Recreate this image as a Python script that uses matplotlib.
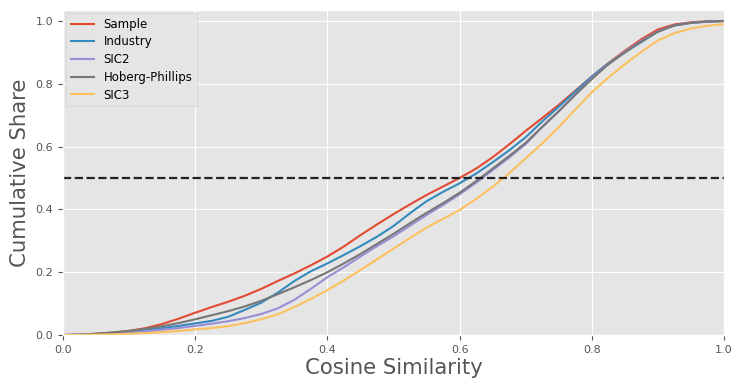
import matplotlib
matplotlib.use("Agg")
from matplotlib import pyplot as plt

plt.style.use("ggplot")

# cumulative share of firm pairs at or below each cosine similarity
similarity = [0.0, 0.025, 0.05, 0.075, 0.1, 0.125, 0.15, 0.175, 0.2, 0.225,
              0.25, 0.275, 0.3, 0.325, 0.35, 0.375, 0.4, 0.425, 0.45, 0.475,
              0.5, 0.525, 0.55, 0.575, 0.6, 0.625, 0.65, 0.675, 0.7, 0.725,
              0.75, 0.775, 0.8, 0.825, 0.85, 0.875, 0.9, 0.925, 0.95, 0.975, 1.0]

sample = [0.0, 0.001, 0.004, 0.008, 0.013, 0.022, 0.035, 0.052, 0.071, 0.089,
          0.106, 0.125, 0.147, 0.172, 0.196, 0.222, 0.250, 0.282, 0.318, 0.352,
          0.385, 0.416, 0.446, 0.473, 0.500, 0.530, 0.566, 0.607, 0.650, 0.691,
          0.733, 0.778, 0.823, 0.866, 0.905, 0.942, 0.973, 0.989, 0.996, 0.999, 1.0]
industry = [0.0, 0.001, 0.003, 0.006, 0.011, 0.016, 0.022, 0.029, 0.037, 0.045,
            0.058, 0.080, 0.103, 0.135, 0.172, 0.203, 0.228, 0.255, 0.283, 0.313,
            0.347, 0.388, 0.426, 0.456, 0.483, 0.514, 0.550, 0.588, 0.630, 0.680,
            0.727, 0.775, 0.823, 0.865, 0.900, 0.933, 0.966, 0.986, 0.994, 0.998, 1.0]
sic2 = [0.0, 0.0005, 0.002, 0.004, 0.008, 0.012, 0.017, 0.022, 0.029, 0.036,
        0.044, 0.054, 0.067, 0.085, 0.112, 0.147, 0.184, 0.216, 0.250, 0.283,
        0.314, 0.348, 0.382, 0.414, 0.448, 0.485, 0.525, 0.565, 0.608, 0.662,
        0.712, 0.765, 0.818, 0.863, 0.902, 0.937, 0.967, 0.986, 0.994, 0.998, 1.0]
hoberg = [0.0, 0.001, 0.004, 0.008, 0.013, 0.020, 0.028, 0.038, 0.050, 0.063,
          0.076, 0.091, 0.109, 0.130, 0.152, 0.175, 0.200, 0.228, 0.258, 0.290,
          0.322, 0.356, 0.389, 0.420, 0.453, 0.490, 0.530, 0.570, 0.612, 0.663,
          0.713, 0.765, 0.815, 0.862, 0.900, 0.935, 0.966, 0.986, 0.994, 0.998, 1.0]
sic3 = [0.0, 0.0003, 0.001, 0.002, 0.004, 0.006, 0.009, 0.013, 0.018, 0.022,
        0.028, 0.038, 0.050, 0.066, 0.089, 0.115, 0.143, 0.174, 0.207, 0.241,
        0.275, 0.309, 0.342, 0.370, 0.398, 0.433, 0.472, 0.515, 0.563, 0.610,
        0.662, 0.718, 0.773, 0.820, 0.862, 0.902, 0.938, 0.961, 0.976, 0.985, 0.99]

series = [("Sample", sample), ("Industry", industry), ("SIC2", sic2),
          ("Hoberg-Phillips", hoberg), ("SIC3", sic3)]

fig = plt.figure(figsize=(7.36, 3.8), dpi=100)
ax = fig.add_axes([0.0856, 0.1184, 0.8981, 0.8553])

for name, values in series:
    ax.plot(similarity, values, label=name, linewidth=1.5)

ax.axhline(0.5, color="#222222", linestyle="--", linewidth=1.6)

ax.set_xlim(0, 1)
ax.set_ylim(0, 1.035)
ax.set_xticks([0.0, 0.2, 0.4, 0.6, 0.8, 1.0])
ax.set_yticks([0.0, 0.2, 0.4, 0.6, 0.8, 1.0])
ax.tick_params(labelsize=8)

ax.set_xlabel("Cosine Similarity", fontsize=15.3, color="#555555", labelpad=2)
ax.set_ylabel("Cumulative Share", fontsize=15.3, color="#555555", labelpad=4)

ax.legend(loc="upper left", fontsize=8.5, facecolor="#e5e5e5",
          edgecolor="#cccccc", framealpha=0.8, borderaxespad=0.25,
          labelspacing=0.4)

fig.savefig("out.png", dpi=100)
